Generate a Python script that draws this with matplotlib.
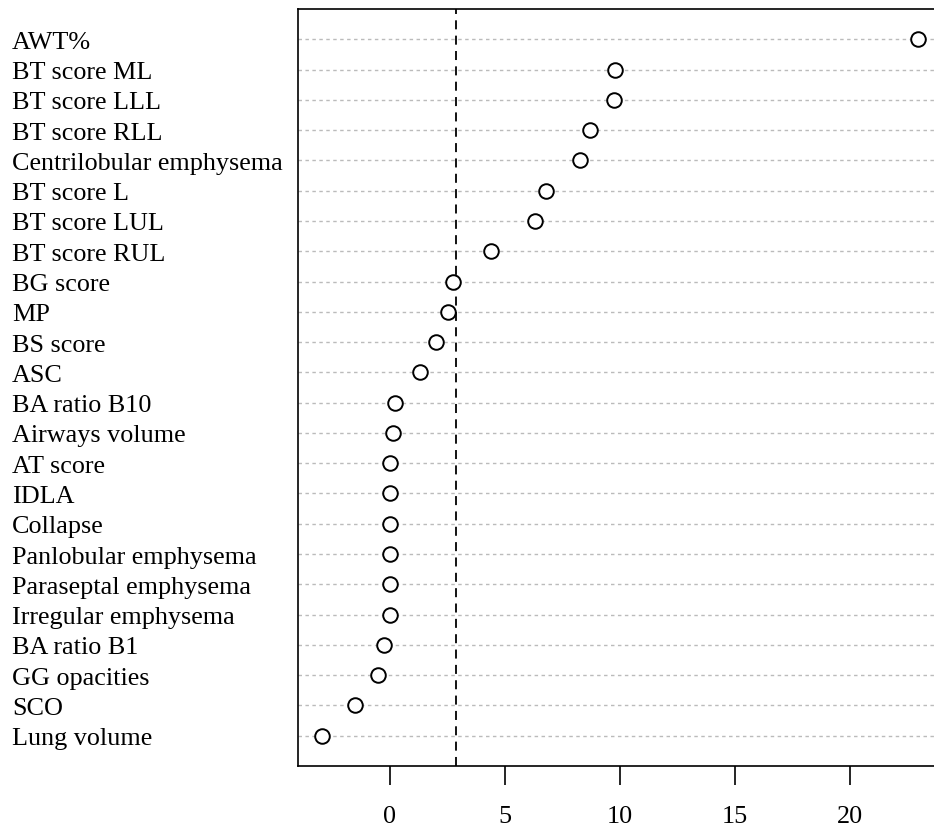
import matplotlib
matplotlib.use("Agg")
import matplotlib.pyplot as plt

labels = ["AWT%", "BT score ML", "BT score LLL", "BT score RLL", "Centrilobular emphysema",
          "BT score L", "BT score LUL", "BT score RUL", "BG score", "MP", "BS score", "ASC",
          "BA ratio B10", "Airways volume", "AT score", "IDLA", "Collapse",
          "Panlobular emphysema", "Paraseptal emphysema", "Irregular emphysema",
          "BA ratio B1", "GG opacities", "SCO", "Lung volume"]
values = [22.98, 9.80, 9.73, 8.72, 8.26, 6.78, 6.33, 4.39, 2.75, 2.54, 2.01, 1.33,
          0.21, 0.15, 0.0, 0.0, 0.0, 0.0, 0.0, 0.0, -0.27, -0.53, -1.53, -2.96]
threshold = 2.87
xticks = [0, 5, 10, 15, 20]

plt.rcParams['font.family'] = ['Liberation Serif', 'DejaVu Serif']

fig = plt.figure(figsize=(9.34, 8.28), dpi=100)
W, H = 934, 828
left, right, top, bottom = 298, 943, 10, 767
ax = fig.add_axes([left / W, 1 - bottom / H, (right - left) / W, (bottom - top) / H])

n = len(labels)
ys = [n - i for i in range(n)]
for y in ys:
    ax.axhline(y, color='#bbbbbb', linestyle=(0, (2.5, 2.5)), linewidth=1.0, zorder=1)
ax.plot(values, ys, linestyle='none', marker='o', markersize=10.5,
        markerfacecolor='white', markeredgecolor='black', markeredgewidth=1.4, zorder=3)
ax.axvline(threshold, color='black', linestyle=(0, (5, 3.5)), linewidth=1.3, zorder=2)

ax.set_xlim(-3.99, 24.05)
ax.set_ylim(0, n + 1)
ax.set_yticks([])
ax.set_xticks(xticks)
ax.set_xticklabels([str(t) for t in xticks], fontsize=18.8)
ax.tick_params(axis='x', direction='out', length=14, width=1.2, pad=14)
for s in ax.spines.values():
    s.set_linewidth(1.2)

for lab, y in zip(labels, ys):
    yd = ax.transData.transform((0, y))[1]
    fig.text(12 / W, yd / H, lab, ha='left', va='center_baseline', fontsize=18.8)

fig.savefig("out.png", dpi=100)
